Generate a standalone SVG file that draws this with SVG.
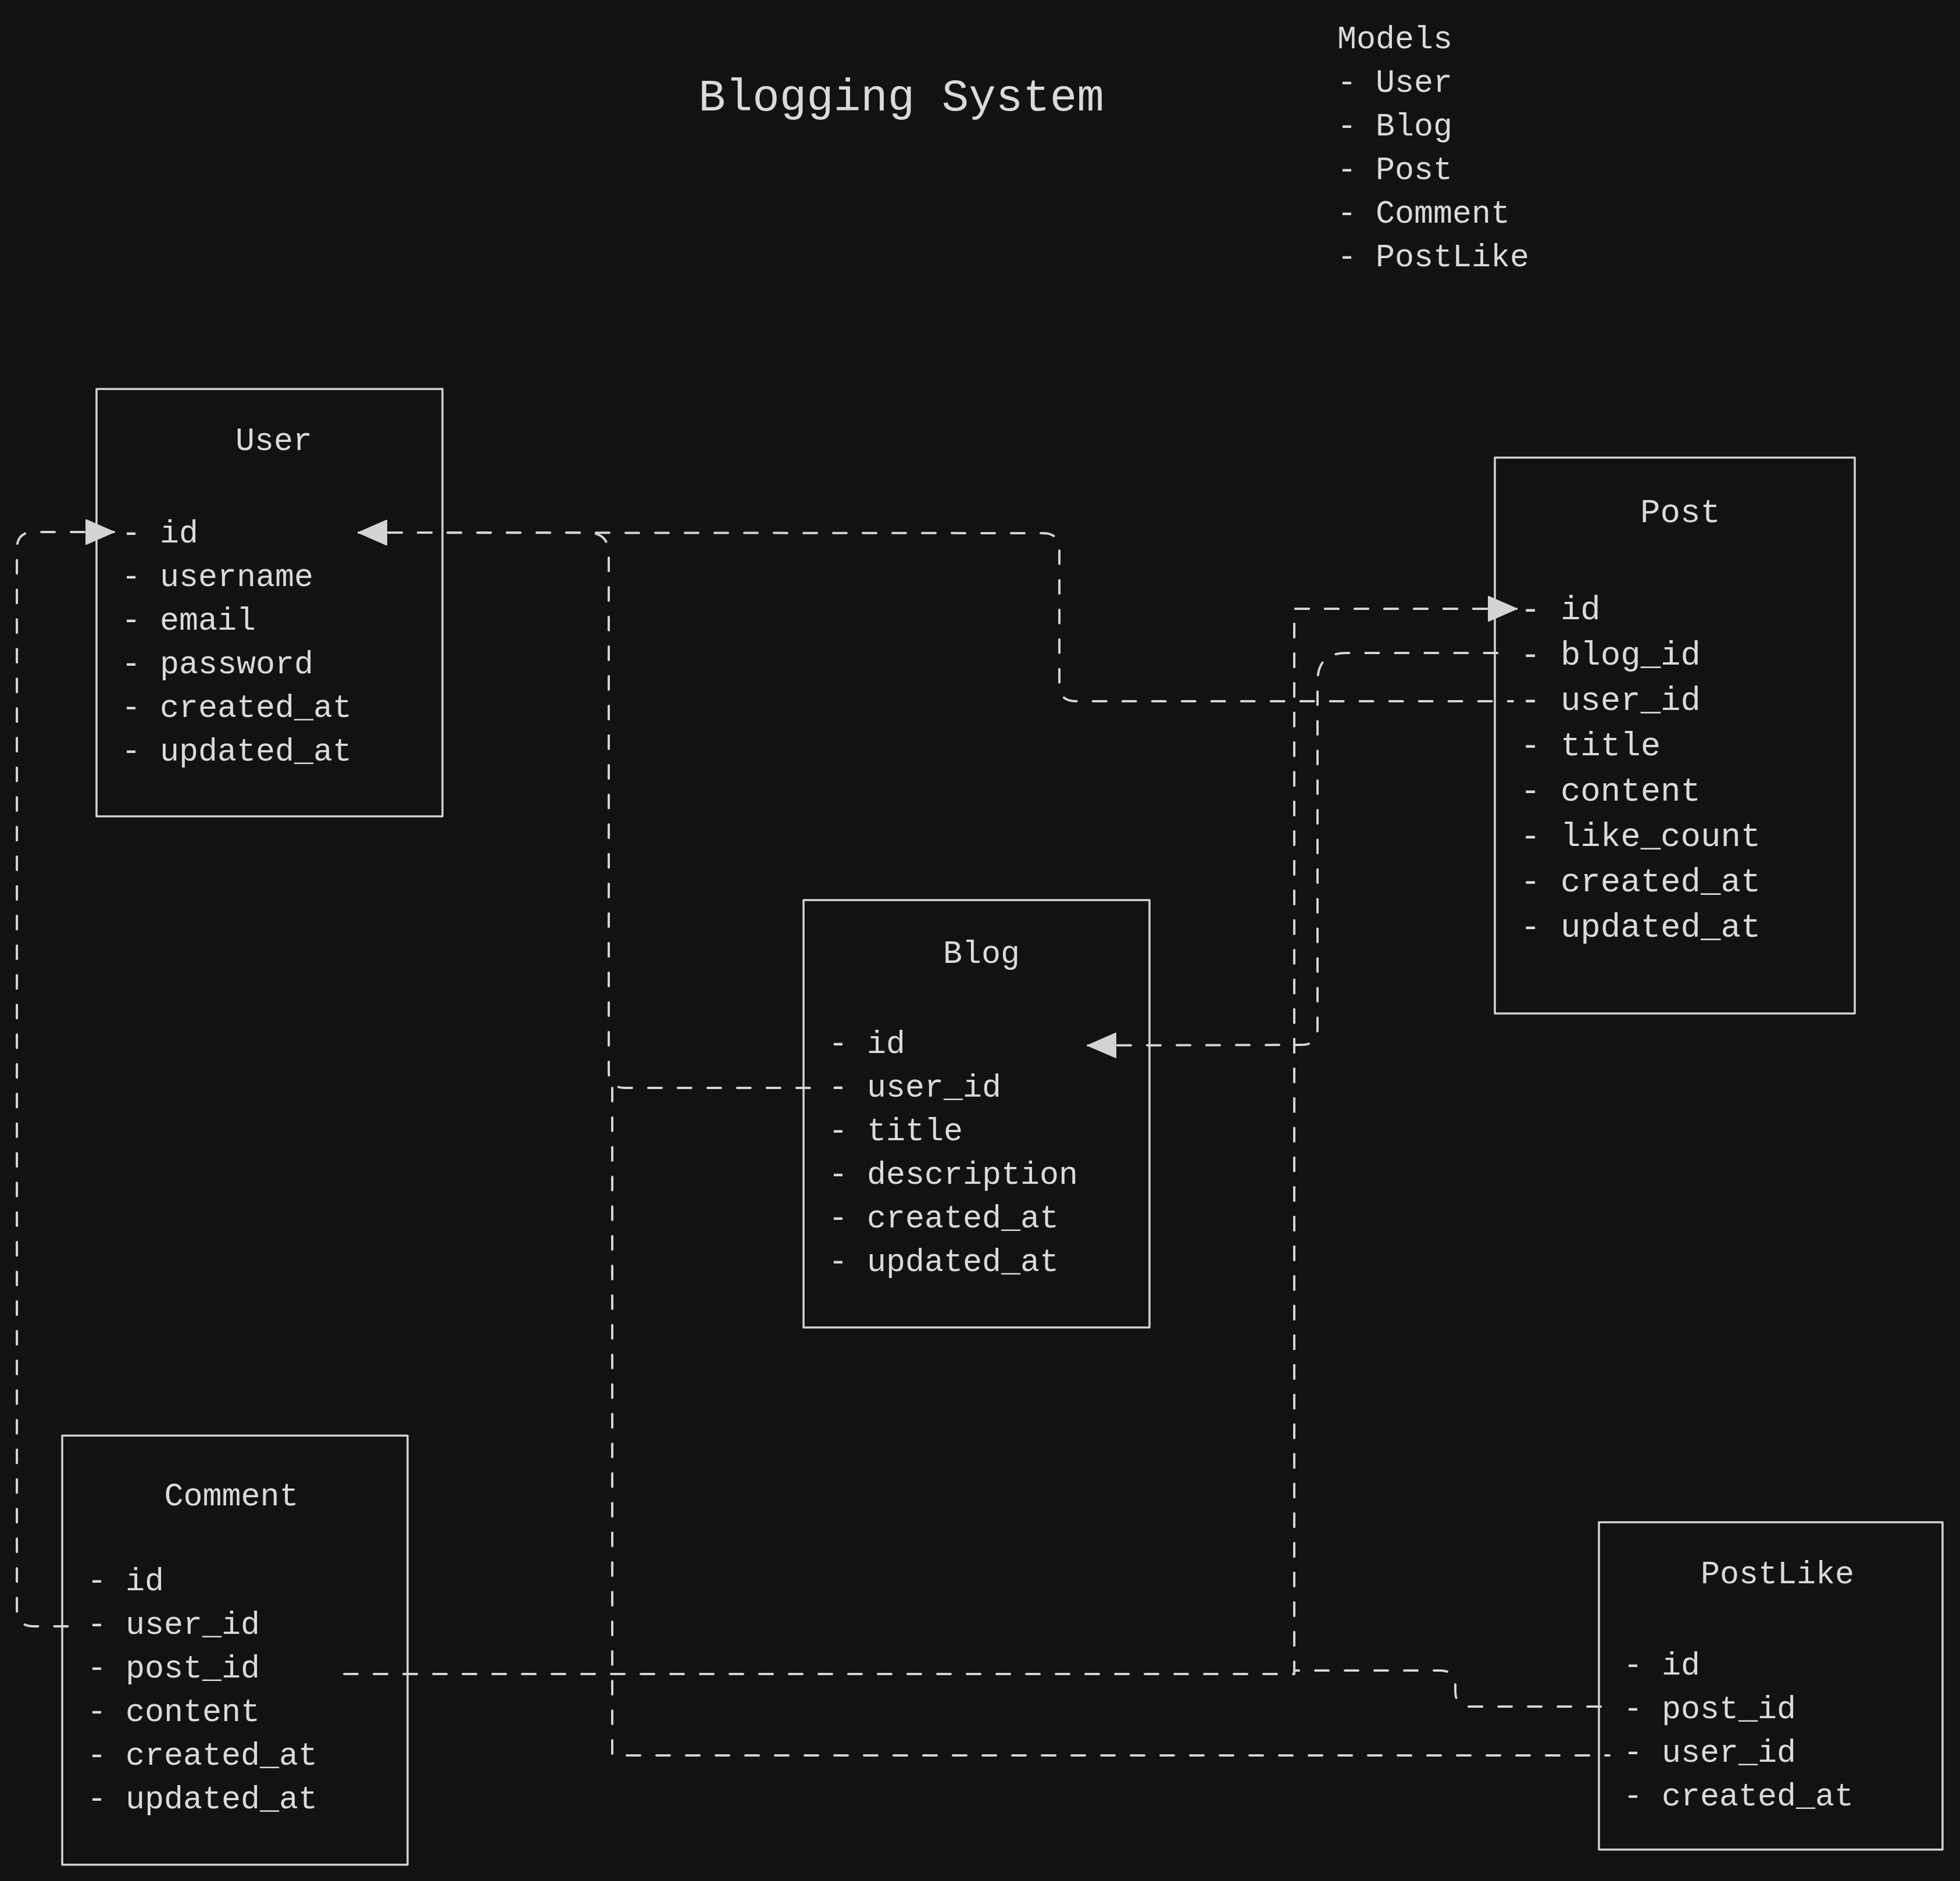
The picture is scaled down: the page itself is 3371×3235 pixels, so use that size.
<svg xmlns="http://www.w3.org/2000/svg" width="3371" height="3235" viewBox="0 0 3371 3235">
<style>
.bg{fill:#121212}
.box{fill:none;stroke:#d4d4d4;stroke-width:3.5;stroke-linejoin:round}
.conn{fill:none;stroke:#d4d4d4;stroke-width:4;stroke-dasharray:23 28;stroke-linecap:round;stroke-linejoin:round}
.arr{marker-start:url(#tri)}
.t{font-family:"Liberation Mono","DejaVu Sans Mono",monospace;font-size:55px;fill:#dadada}
.tp{font-size:57.4px}
.mid{text-anchor:middle}
.h1{font-size:77.5px}
</style>
<defs>
<marker id="tri" markerUnits="userSpaceOnUse" markerWidth="60" markerHeight="54" refX="48" refY="21" orient="auto-start-reverse" overflow="visible">
<path d="M0,0 L48,21 L0,42 Z" fill="#d4d4d4" stroke="#d4d4d4" stroke-width="2" stroke-linejoin="round"/>
</marker>
</defs>
<rect class="bg" x="0" y="0" width="3371" height="3235"/>

<g id="header">
<text class="t h1 mid" x="1550" y="190">Blogging System</text>
</g>
<g id="models-list">
<text class="t" x="2300" y="83">Models</text>
<text class="t" x="2300" y="158">- User</text>
<text class="t" x="2300" y="233">- Blog</text>
<text class="t" x="2300" y="308">- Post</text>
<text class="t" x="2300" y="383">- Comment</text>
<text class="t" x="2300" y="458">- PostLike</text>
</g>

<g id="connectors">
<path id="comment-user" class="conn arr" d="M196,915 L58,915 Q29,915 29,944 L29,2768 Q29,2797 58,2797 L137,2797"/>
<path id="blog-user" class="conn arr" d="M617,916 L1010,916 Q1047,916 1047,953 L1047,1843 Q1047,1871 1075,1871 L1416,1871"/>
<path id="post-user" class="conn arr" d="M617,916 L1794,917 Q1822,917 1822,945 L1822,1178 Q1822,1206 1850,1206 L2602,1206"/>
<path id="post-blog" class="conn arr" d="M1871,1798 L2238,1797 Q2266,1797 2266,1769 L2266,1172 Q2266,1123 2315,1123 L2603,1123"/>
<path id="comment-post" class="conn arr" d="M2608,1047 L2226,1047 L2226,2879 L565,2879"/>
<path id="postlike-post" class="conn arr" d="M2608,1047 L2226,1047 L2226,2873 L2477,2873 Q2503,2873 2503,2899 L2503,2909 Q2503,2935 2529,2935 L2778,2935"/>
<path id="postlike-user" class="conn" d="M1053,1871 L1053,3019 L2768,3019"/>
</g>

<g id="User">
<rect class="box" x="166" y="669" width="595" height="735"/>
<text class="t mid" x="471" y="774">User</text>
<text class="t" x="209" y="933">- id</text>
<text class="t" x="209" y="1008">- username</text>
<text class="t" x="209" y="1083">- email</text>
<text class="t" x="209" y="1158">- password</text>
<text class="t" x="209" y="1233">- created_at</text>
<text class="t" x="209" y="1308">- updated_at</text>
</g>

<g id="Blog">
<rect class="box" x="1382" y="1548" width="595" height="735"/>
<text class="t mid" x="1688" y="1656">Blog</text>
<text class="t" x="1425" y="1811">- id</text>
<text class="t" x="1425" y="1886">- user_id</text>
<text class="t" x="1425" y="1961">- title</text>
<text class="t" x="1425" y="2036">- description</text>
<text class="t" x="1425" y="2111">- created_at</text>
<text class="t" x="1425" y="2186">- updated_at</text>
</g>

<g id="Post">
<rect class="box" x="2571" y="787" width="619" height="956"/>
<text class="t tp mid" x="2890" y="898">Post</text>
<text class="t tp" x="2615" y="1065">- id</text>
<text class="t tp" x="2615" y="1143">- blog_id</text>
<text class="t tp" x="2615" y="1221">- user_id</text>
<text class="t tp" x="2615" y="1299">- title</text>
<text class="t tp" x="2615" y="1377">- content</text>
<text class="t tp" x="2615" y="1455">- like_count</text>
<text class="t tp" x="2615" y="1533">- created_at</text>
<text class="t tp" x="2615" y="1611">- updated_at</text>
</g>

<g id="Comment">
<rect class="box" x="107" y="2469" width="594" height="738"/>
<text class="t mid" x="398" y="2589">Comment</text>
<text class="t" x="150" y="2735">- id</text>
<text class="t" x="150" y="2810">- user_id</text>
<text class="t" x="150" y="2885">- post_id</text>
<text class="t" x="150" y="2960">- content</text>
<text class="t" x="150" y="3035">- created_at</text>
<text class="t" x="150" y="3110">- updated_at</text>
</g>

<g id="PostLike">
<rect class="box" x="2750" y="2618" width="591" height="563"/>
<text class="t mid" x="3057" y="2723">PostLike</text>
<text class="t" x="2792" y="2880">- id</text>
<text class="t" x="2792" y="2955">- post_id</text>
<text class="t" x="2792" y="3030">- user_id</text>
<text class="t" x="2792" y="3105">- created_at</text>
</g>
</svg>
